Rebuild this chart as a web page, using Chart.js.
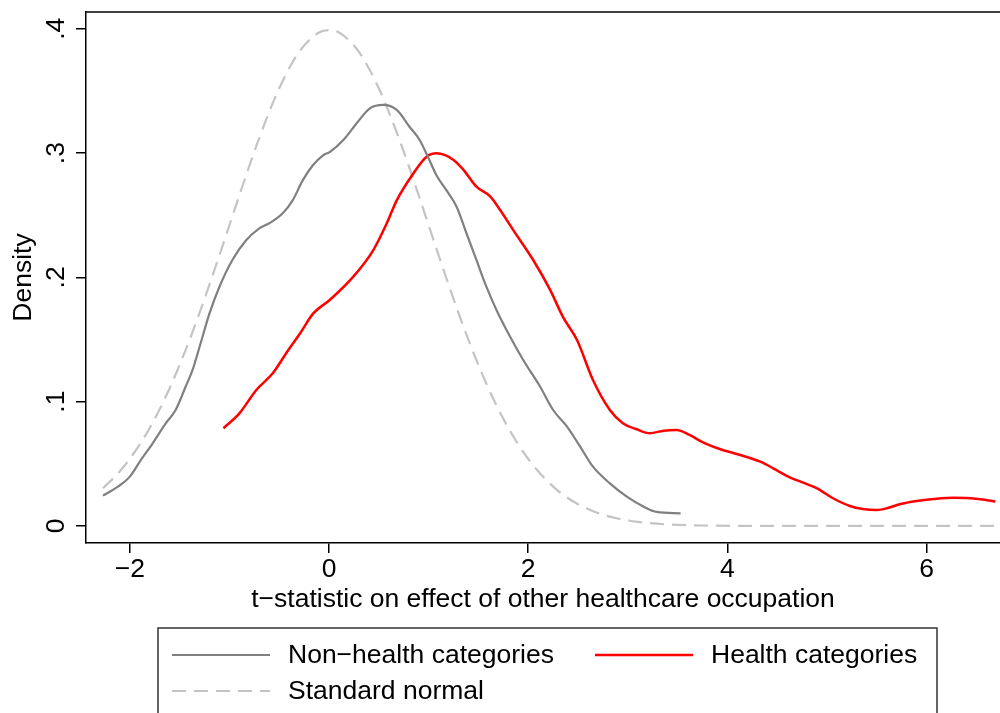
<!DOCTYPE html>
<html lang="en">
<head>
  <meta charset="UTF-8" />
  <title>Density of t-statistics</title>
  <script src="https://cdn.jsdelivr.net/npm/chart.js"></script>
  <style>
    html, body { margin: 0; padding: 0; background: #fff; }
    #wrap { width: 1000px; height: 713px; position: relative; }
  </style>
</head>
<body>
  <div id="wrap"><canvas id="densityChart" width="1000" height="713"></canvas></div>

  <script>
    // values
    const nonHealthX = [-2.27, -2.12, -2.00, -1.89, -1.77, -1.64, -1.54, -1.44, -1.37, -1.30, -1.20, -1.10,
      -0.97, -0.83, -0.70, -0.60, -0.465, -0.365, -0.264, -0.164, -0.063, 0.01, 0.144, 0.278, 0.41, 0.545,
      0.68, 0.81, 0.91, 1.01, 1.08, 1.18, 1.28, 1.38, 1.48, 1.58, 1.68, 1.82, 1.95, 2.12, 2.25, 2.39, 2.52,
      2.65, 2.82, 2.99, 3.16, 3.29, 3.53];
    const nonHealthY = [0.0244, 0.0316, 0.0397, 0.053, 0.0665, 0.0826, 0.0933, 0.112, 0.1255, 0.144, 0.171, 0.1925,
      0.214, 0.230, 0.2395, 0.2435, 0.2516, 0.262, 0.278, 0.290, 0.298, 0.301, 0.3105, 0.324, 0.336, 0.3387,
      0.3347, 0.321, 0.3105, 0.294, 0.282, 0.270, 0.257, 0.2355, 0.214, 0.1925, 0.174, 0.152, 0.1335, 0.112, 0.0933, 0.080, 0.064,
      0.0477, 0.0343, 0.0236, 0.0155, 0.0113, 0.0102];

    const healthX = [-1.06, -0.90, -0.73, -0.565, -0.43, -0.29, -0.158, 0.01, 0.244, 0.445, 0.58, 0.68, 0.85,
      0.98, 1.08, 1.25, 1.35, 1.48, 1.62, 1.72, 1.85, 2.05, 2.22, 2.35, 2.49, 2.65, 2.82, 2.95, 3.09, 3.22,
      3.36, 3.49, 3.62, 3.76, 3.93, 4.13, 4.33, 4.46, 4.60, 4.76, 4.90, 5.06, 5.23, 5.36, 5.50, 5.60, 5.73,
      5.90, 6.07, 6.27, 6.40, 6.54, 6.69];
    const healthY = [0.0786, 0.0906, 0.1094, 0.1228, 0.139, 0.155, 0.171, 0.182, 0.2006, 0.222, 0.2435, 0.262, 0.284,
      0.297, 0.2998, 0.2945, 0.2865, 0.273, 0.265, 0.254, 0.238, 0.214, 0.190, 0.168, 0.1496, 0.1175, 0.0933, 0.0826, 0.0778, 0.0746,
      0.0767, 0.0772, 0.0732, 0.067, 0.0617, 0.0571, 0.0517, 0.0464, 0.0402, 0.0348, 0.0303, 0.0223, 0.0161, 0.0137, 0.0129, 0.0142, 0.0175,
      0.0201, 0.0217, 0.0228, 0.0225, 0.0215, 0.0196];

    const normalX = [-2.27, -2.1, -1.9, -1.7, -1.5, -1.3, -1.1, -0.9, -0.7, -0.5, -0.3, -0.1, 0, 0.1, 0.3, 0.5,
      0.7, 0.9, 1.1, 1.3, 1.5, 1.7, 1.9, 2.1, 2.3, 2.5, 2.7, 2.9, 3.1, 3.4, 3.8, 4.5, 6.74];
    const normalY = [0.0303, 0.044, 0.0656, 0.094, 0.1295, 0.1714, 0.2179, 0.2661, 0.3123, 0.3521, 0.3814, 0.397, 0.3989, 0.397, 0.3814, 0.3521,
      0.3123, 0.2661, 0.2179, 0.1714, 0.1295, 0.094, 0.0656, 0.044, 0.0283, 0.0175, 0.0104, 0.006, 0.0033, 0.0012, 0.0003, 0, 0];

    const xTicks = [-2, 0, 2, 4, 6];
    const yTicks = [0, 0.1, 0.2, 0.3, 0.4];
    const xTickLabels = ['\u22122', '0', '2', '4', '6'];
    const yTickLabels = ['0', '.1', '.2', '.3', '.4'];

    const FONT = '"Liberation Sans", Arial, sans-serif';
    const FONT_SIZE = 26.5;
    Chart.defaults.font.family = FONT;
    Chart.defaults.color = '#000';

    function pts(xs, ys) {
      return xs.map((x, i) => ({ x: x, y: ys[i] }));
    }

    // Stata-like extras: top frame line, rotated y tick labels and the boxed legend
    const stataExtras = {
      id: 'stataExtras',
      afterDraw(chart) {
        const ctx = chart.ctx;
        const area = chart.chartArea;
        const yScale = chart.scales.y;

        ctx.save();
        ctx.strokeStyle = '#000';
        ctx.lineWidth = 1.5;
        ctx.beginPath();
        ctx.moveTo(area.left, area.top);
        ctx.lineTo(area.right, area.top);
        ctx.stroke();

        ctx.fillStyle = '#000';
        ctx.font = FONT_SIZE + 'px ' + FONT;
        ctx.textAlign = 'center';
        ctx.textBaseline = 'alphabetic';
        yTicks.forEach((v, i) => {
          const py = yScale.getPixelForValue(v);
          ctx.save();
          ctx.translate(64, py);
          ctx.rotate(-Math.PI / 2);
          ctx.fillText(yTickLabels[i], 0, 0);
          ctx.restore();
        });

        // legend box
        ctx.strokeStyle = '#333';
        ctx.lineWidth = 1.5;
        ctx.strokeRect(158, 628, 779, 110);

        const ds = chart.data.datasets;
        const items = [
          { d: ds[0], x: 172, y: 655 },
          { d: ds[1], x: 595, y: 655 },
          { d: ds[2], x: 172, y: 691 }
        ];
        ctx.textAlign = 'left';
        ctx.textBaseline = 'middle';
        items.forEach(it => {
          ctx.save();
          ctx.strokeStyle = it.d.borderColor;
          ctx.lineWidth = it.d.borderWidth;
          ctx.setLineDash(it.d.borderDash || []);
          ctx.beginPath();
          ctx.moveTo(it.x, it.y);
          ctx.lineTo(it.x + 98, it.y);
          ctx.stroke();
          ctx.restore();
          ctx.fillText(it.d.label, it.x + 116, it.y + 1);
        });
        ctx.restore();
      }
    };

    new Chart(document.getElementById('densityChart'), {
      type: 'line',
      data: {
        datasets: [
          {
            label: 'Non\u2212health categories',
            data: pts(nonHealthX, nonHealthY),
            borderColor: '#808080',
            borderWidth: 2.2,
            pointRadius: 0,
            cubicInterpolationMode: 'monotone'
          },
          {
            label: 'Health categories',
            data: pts(healthX, healthY),
            borderColor: '#ff0000',
            borderWidth: 2.5,
            pointRadius: 0,
            cubicInterpolationMode: 'monotone'
          },
          {
            label: 'Standard normal',
            data: pts(normalX, normalY),
            borderColor: '#c4c4c4',
            borderWidth: 2.2,
            borderDash: [14, 8],
            pointRadius: 0,
            cubicInterpolationMode: 'monotone'
          }
        ]
      },
      options: {
        responsive: false,
        animation: false,
        layout: { padding: { top: 12, right: 0, bottom: 90, left: 0 } },
        plugins: {
          legend: { display: false },
          tooltip: { enabled: false }
        },
        scales: {
          x: {
            type: 'linear',
            min: -2.44,
            max: 6.737,
            afterBuildTicks: s => { s.ticks = xTicks.map(v => ({ value: v })); },
            afterFit: s => { s.height = 80; },
            border: { color: '#000', width: 1.5 },
            grid: { drawOnChartArea: false, tickLength: 10, color: '#000', lineWidth: 1.5 },
            ticks: {
              font: { size: FONT_SIZE },
              padding: 1,
              maxRotation: 0,
              callback: v => xTickLabels[xTicks.indexOf(v)]
            },
            title: {
              display: true,
              text: 't\u2212statistic on effect of other healthcare occupation',
              font: { size: FONT_SIZE },
              padding: { top: 0, bottom: 7 }
            }
          },
          y: {
            type: 'linear',
            min: -0.0137,
            max: 0.4135,
            afterBuildTicks: s => { s.ticks = yTicks.map(v => ({ value: v })); },
            afterFit: s => { s.width = 86; },
            border: { color: '#000', width: 1.5 },
            grid: { drawOnChartArea: false, tickLength: 10, color: '#000', lineWidth: 1.5 },
            ticks: { display: false },
            title: {
              display: true,
              text: 'Density',
              font: { size: FONT_SIZE },
              padding: { top: 8, bottom: 0 }
            }
          }
        }
      },
      plugins: [stataExtras]
    });
  </script>
</body>
</html>
